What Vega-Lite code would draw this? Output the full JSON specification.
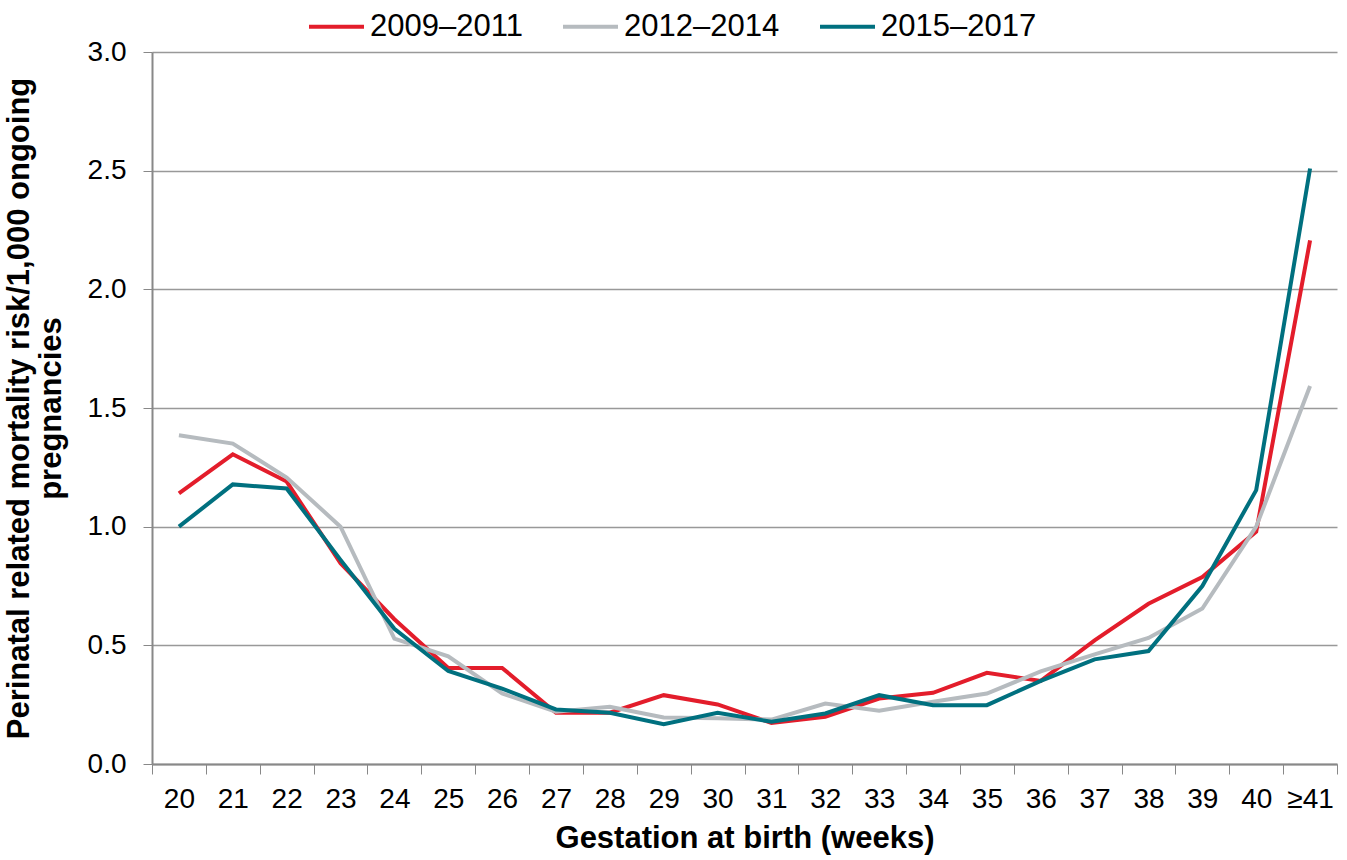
{
  "$schema": "https://vega.github.io/schema/vega-lite/v6.json",
  "width": 1185,
  "height": 712,
  "autosize": {"type": "none"},
  "padding": {"left": 152, "top": 52, "right": 10, "bottom": 96},
  "background": "white",
  "config": {
    "font": "Liberation Sans",
    "view": {"stroke": null}
  },
  "data": {
    "values": [
      {"week": "20", "period": "2009–2011", "risk": 1.14},
      {"week": "21", "period": "2009–2011", "risk": 1.305},
      {"week": "22", "period": "2009–2011", "risk": 1.19},
      {"week": "23", "period": "2009–2011", "risk": 0.846},
      {"week": "24", "period": "2009–2011", "risk": 0.61},
      {"week": "25", "period": "2009–2011", "risk": 0.405},
      {"week": "26", "period": "2009–2011", "risk": 0.405},
      {"week": "27", "period": "2009–2011", "risk": 0.216},
      {"week": "28", "period": "2009–2011", "risk": 0.216},
      {"week": "29", "period": "2009–2011", "risk": 0.29},
      {"week": "30", "period": "2009–2011", "risk": 0.251},
      {"week": "31", "period": "2009–2011", "risk": 0.173},
      {"week": "32", "period": "2009–2011", "risk": 0.199},
      {"week": "33", "period": "2009–2011", "risk": 0.276},
      {"week": "34", "period": "2009–2011", "risk": 0.3},
      {"week": "35", "period": "2009–2011", "risk": 0.384},
      {"week": "36", "period": "2009–2011", "risk": 0.35},
      {"week": "37", "period": "2009–2011", "risk": 0.521},
      {"week": "38", "period": "2009–2011", "risk": 0.675},
      {"week": "39", "period": "2009–2011", "risk": 0.788},
      {"week": "40", "period": "2009–2011", "risk": 0.979},
      {"week": "≥41", "period": "2009–2011", "risk": 2.206},
      {"week": "20", "period": "2012–2014", "risk": 1.385},
      {"week": "21", "period": "2012–2014", "risk": 1.35},
      {"week": "22", "period": "2012–2014", "risk": 1.207},
      {"week": "23", "period": "2012–2014", "risk": 1.0},
      {"week": "24", "period": "2012–2014", "risk": 0.528},
      {"week": "25", "period": "2012–2014", "risk": 0.454},
      {"week": "26", "period": "2012–2014", "risk": 0.297},
      {"week": "27", "period": "2012–2014", "risk": 0.22},
      {"week": "28", "period": "2012–2014", "risk": 0.241},
      {"week": "29", "period": "2012–2014", "risk": 0.196},
      {"week": "30", "period": "2012–2014", "risk": 0.193},
      {"week": "31", "period": "2012–2014", "risk": 0.187},
      {"week": "32", "period": "2012–2014", "risk": 0.255},
      {"week": "33", "period": "2012–2014", "risk": 0.224},
      {"week": "34", "period": "2012–2014", "risk": 0.262},
      {"week": "35", "period": "2012–2014", "risk": 0.297},
      {"week": "36", "period": "2012–2014", "risk": 0.39},
      {"week": "37", "period": "2012–2014", "risk": 0.462},
      {"week": "38", "period": "2012–2014", "risk": 0.531},
      {"week": "39", "period": "2012–2014", "risk": 0.655},
      {"week": "40", "period": "2012–2014", "risk": 1.0},
      {"week": "≥41", "period": "2012–2014", "risk": 1.593},
      {"week": "20", "period": "2015–2017", "risk": 1.0},
      {"week": "21", "period": "2015–2017", "risk": 1.178},
      {"week": "22", "period": "2015–2017", "risk": 1.161},
      {"week": "23", "period": "2015–2017", "risk": 0.86},
      {"week": "24", "period": "2015–2017", "risk": 0.57},
      {"week": "25", "period": "2015–2017", "risk": 0.392},
      {"week": "26", "period": "2015–2017", "risk": 0.318},
      {"week": "27", "period": "2015–2017", "risk": 0.23},
      {"week": "28", "period": "2015–2017", "risk": 0.216},
      {"week": "29", "period": "2015–2017", "risk": 0.168},
      {"week": "30", "period": "2015–2017", "risk": 0.216},
      {"week": "31", "period": "2015–2017", "risk": 0.178},
      {"week": "32", "period": "2015–2017", "risk": 0.213},
      {"week": "33", "period": "2015–2017", "risk": 0.29},
      {"week": "34", "period": "2015–2017", "risk": 0.248},
      {"week": "35", "period": "2015–2017", "risk": 0.248},
      {"week": "36", "period": "2015–2017", "risk": 0.35},
      {"week": "37", "period": "2015–2017", "risk": 0.441},
      {"week": "38", "period": "2015–2017", "risk": 0.476},
      {"week": "39", "period": "2015–2017", "risk": 0.75},
      {"week": "40", "period": "2015–2017", "risk": 1.154},
      {"week": "≥41", "period": "2015–2017", "risk": 2.509}
    ]
  },
  "mark": {"type": "line", "strokeWidth": 4, "strokeJoin": "miter"},
  "encoding": {
    "x": {
      "field": "week",
      "type": "ordinal",
      "sort": ["20","21","22","23","24","25","26","27","28","29","30","31","32","33","34","35","36","37","38","39","40","≥41"],
      "scale": {"type": "band", "paddingInner": 0, "paddingOuter": 0},
      "axis": {
        "title": "Gestation at birth (weeks)",
        "titleFontSize": 31,
        "titleFontWeight": "bold",
        "titleColor": "black",
        "titlePadding": 10,
        "labelFontSize": 28,
        "labelColor": "black",
        "labelAngle": 0,
        "labelPadding": 11,
        "tickBand": "extent",
        "tickSize": 10,
        "tickColor": "#888888",
        "domainColor": "#888888",
        "domainWidth": 2,
        "grid": false
      }
    },
    "y": {
      "field": "risk",
      "type": "quantitative",
      "scale": {"domain": [0, 3]},
      "axis": {
        "title": ["Perinatal related mortality risk/1,000 ongoing", "pregnancies"],
        "titleFontSize": 31,
        "titleFontWeight": "bold",
        "titleColor": "black",
        "titlePadding": 20,
        "titleLineHeight": 32,
        "values": [0, 0.5, 1, 1.5, 2, 2.5, 3],
        "format": ".1f",
        "labelFontSize": 28,
        "labelColor": "black",
        "labelPadding": 17,
        "tickSize": 9,
        "tickColor": "#888888",
        "domainColor": "#888888",
        "domainWidth": 2,
        "grid": true,
        "gridColor": "#999999",
        "gridWidth": 1.5
      }
    },
    "color": {
      "field": "period",
      "type": "nominal",
      "scale": {
        "domain": ["2009–2011", "2012–2014", "2015–2017"],
        "range": ["#E31D2B", "#B6BBBF", "#00707F"]
      },
      "legend": {
        "title": null,
        "orient": "none",
        "legendX": 155,
        "legendY": -55,
        "direction": "horizontal",
        "symbolType": "stroke",
        "symbolSize": 3025,
        "symbolStrokeWidth": 4,
        "labelFontSize": 31,
        "labelColor": "black",
        "columnPadding": 32,
        "labelOffset": 4
      }
    }
  }
}
